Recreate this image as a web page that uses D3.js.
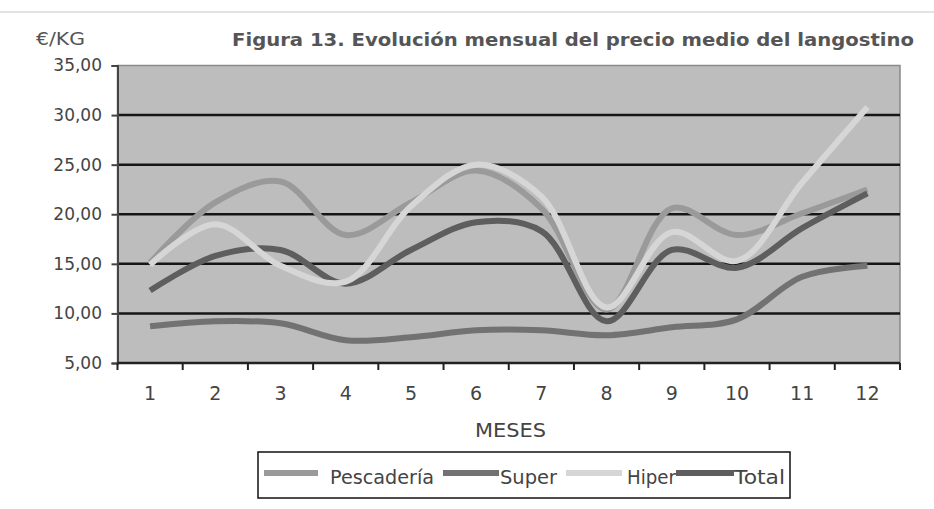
<!DOCTYPE html>
<html>
<head>
<meta charset="utf-8">
<script src="https://cdn.jsdelivr.net/npm/d3@7"></script>
<style>
  html, body { margin: 0; padding: 0; background: #ffffff; }
  svg { display: block; }
  text { font-family: "DejaVu Sans", Verdana, sans-serif; }
</style>
</head>
<body>
<svg id="chart" width="934" height="509"></svg>
<script>
// ---- data ----
const months = ["1","2","3","4","5","6","7","8","9","10","11","12"];
const pescaderia = [15.1, 21.2, 23.3, 17.9, 21.2, 24.4, 20.6, 10.4, 20.6, 17.9, 20.1, 22.5];
const superV     = [8.7, 9.2, 9.0, 7.3, 7.6, 8.3, 8.3, 7.8, 8.6, 9.4, 13.7, 14.8];
const hiper      = [14.9, 19.0, 14.8, 13.2, 20.8, 25.0, 21.8, 10.6, 18.2, 15.3, 23.2, 30.8];
const total      = [12.3, 15.8, 16.4, 13.0, 16.4, 19.2, 18.3, 9.2, 16.4, 14.6, 18.6, 22.1];
const yTicks = [5, 10, 15, 20, 25, 30, 35];
const seriesNames = ["Pescadería", "Super", "Hiper", "Total"];

const seriesColors = {
  "Pescadería": "#9a9a9a",
  "Super": "#727272",
  "Hiper": "#d6d6d6",
  "Total": "#5e5e5e"
};

const series = [
  { name: "Pescadería", values: pescaderia },
  { name: "Super", values: superV },
  { name: "Total", values: total },
  { name: "Hiper", values: hiper }
];

const svg = d3.select("#chart");

// faint scan line near top
svg.append("line").attr("x1", 0).attr("x2", 934).attr("y1", 12).attr("y2", 12)
  .attr("stroke", "#e2e2e2").attr("stroke-width", 2);

const pLeft = 117.5, pRight = 900, pTop = 65.5, pBottom = 363;

const x = d3.scaleBand().domain(months).range([pLeft, pRight]).padding(0);
const y = d3.scaleLinear().domain([5, 35]).range([pBottom, pTop]);

// plot area
svg.append("rect")
  .attr("x", pLeft).attr("y", pTop)
  .attr("width", pRight - pLeft).attr("height", pBottom - pTop)
  .attr("fill", "#bdbdbd")
  .attr("stroke", "#8a8a8a").attr("stroke-width", 1.5);

// gridlines
svg.append("g").selectAll("line")
  .data(yTicks.filter(d => d > 5 && d < 35))
  .join("line")
  .attr("x1", pLeft).attr("x2", pRight)
  .attr("y1", d => y(d)).attr("y2", d => y(d))
  .attr("stroke", "#161616").attr("stroke-width", 2.5);

// lines
const line = d3.line()
  .x((d, i) => x(months[i]) + x.bandwidth() / 2)
  .y(d => y(d))
  .curve(d3.curveCatmullRom.alpha(0.5));

svg.append("g").selectAll("path")
  .data(series)
  .join("path")
  .attr("d", d => line(d.values))
  .attr("fill", "none")
  .attr("stroke", d => seriesColors[d.name])
  .attr("stroke-width", 6)
  .attr("stroke-linejoin", "round");

// y axis
const yAxis = d3.axisLeft(y)
  .tickValues(yTicks)
  .tickSize(6)
  .tickPadding(9.5)
  .tickFormat(d => d3.format(".2f")(d).replace(".", ","));
const gy = svg.append("g").attr("transform", `translate(${pLeft},0)`).call(yAxis);
gy.select(".domain").attr("stroke", "#444").attr("stroke-width", 2);
gy.selectAll(".tick line").attr("stroke", "#444").attr("stroke-width", 2);
gy.selectAll(".tick text").attr("fill", "#444").style("font-size", "17px");

// x axis: ticks between categories
const gx = svg.append("g").attr("transform", `translate(0,${pBottom})`);
gx.append("line").attr("x1", pLeft).attr("x2", pRight).attr("y1", 0).attr("y2", 0)
  .attr("stroke", "#222").attr("stroke-width", 2.5);
const boundaries = months.map(m => x(m)).concat([pRight]);
gx.selectAll("line.tk").data(boundaries).join("line").attr("class", "tk")
  .attr("x1", d => d).attr("x2", d => d).attr("y1", 0).attr("y2", 7)
  .attr("stroke", "#222").attr("stroke-width", 2);
const xAxis = d3.axisBottom(x).tickSize(0).tickPadding(24);
const gxl = svg.append("g").attr("transform", `translate(0,${pBottom})`).call(xAxis);
gxl.select(".domain").remove();
gxl.selectAll(".tick text").attr("fill", "#444").style("font-size", "19px");

// axis titles
svg.append("text").attr("x", 36).attr("y", 45).text("€/KG")
  .attr("fill", "#555").style("font-size", "17px")
  .attr("textLength", 49).attr("lengthAdjust", "spacingAndGlyphs");
svg.append("text").attr("x", 475).attr("y", 437).text("MESES")
  .attr("fill", "#444").style("font-size", "19px")
  .attr("textLength", 71).attr("lengthAdjust", "spacingAndGlyphs");

// title
svg.append("text").attr("x", 232).attr("y", 46)
  .text("Figura 13. Evolución mensual del precio medio del langostino")
  .attr("fill", "#555").style("font-size", "18px").style("font-weight", "bold")
  .attr("textLength", 682).attr("lengthAdjust", "spacingAndGlyphs");

// legend
const lg = svg.append("g");
lg.append("rect").attr("x", 258).attr("y", 452).attr("width", 532).attr("height", 46)
  .attr("fill", "#fff").attr("stroke", "#111").attr("stroke-width", 1.5);
const legendItems = [
  { name: "Pescadería", x1: 264, x2: 318, tx: 330, w: 104 },
  { name: "Super", x1: 443, x2: 499, tx: 500, w: 57 },
  { name: "Hiper", x1: 566, x2: 622, tx: 627, w: 49 },
  { name: "Total", x1: 676, x2: 734, tx: 734, w: 51 }
];
const li = lg.selectAll("g.item").data(legendItems).join("g").attr("class", "item");
li.append("line").attr("x1", d => d.x1).attr("x2", d => d.x2)
  .attr("y1", 473).attr("y2", 473)
  .attr("stroke", d => seriesColors[d.name]).attr("stroke-width", 6);
li.append("text").attr("x", d => d.tx).attr("y", 484).text(d => d.name)
  .attr("fill", "#444").style("font-size", "20px")
  .attr("textLength", d => d.w).attr("lengthAdjust", "spacingAndGlyphs");
</script>
</body>
</html>
